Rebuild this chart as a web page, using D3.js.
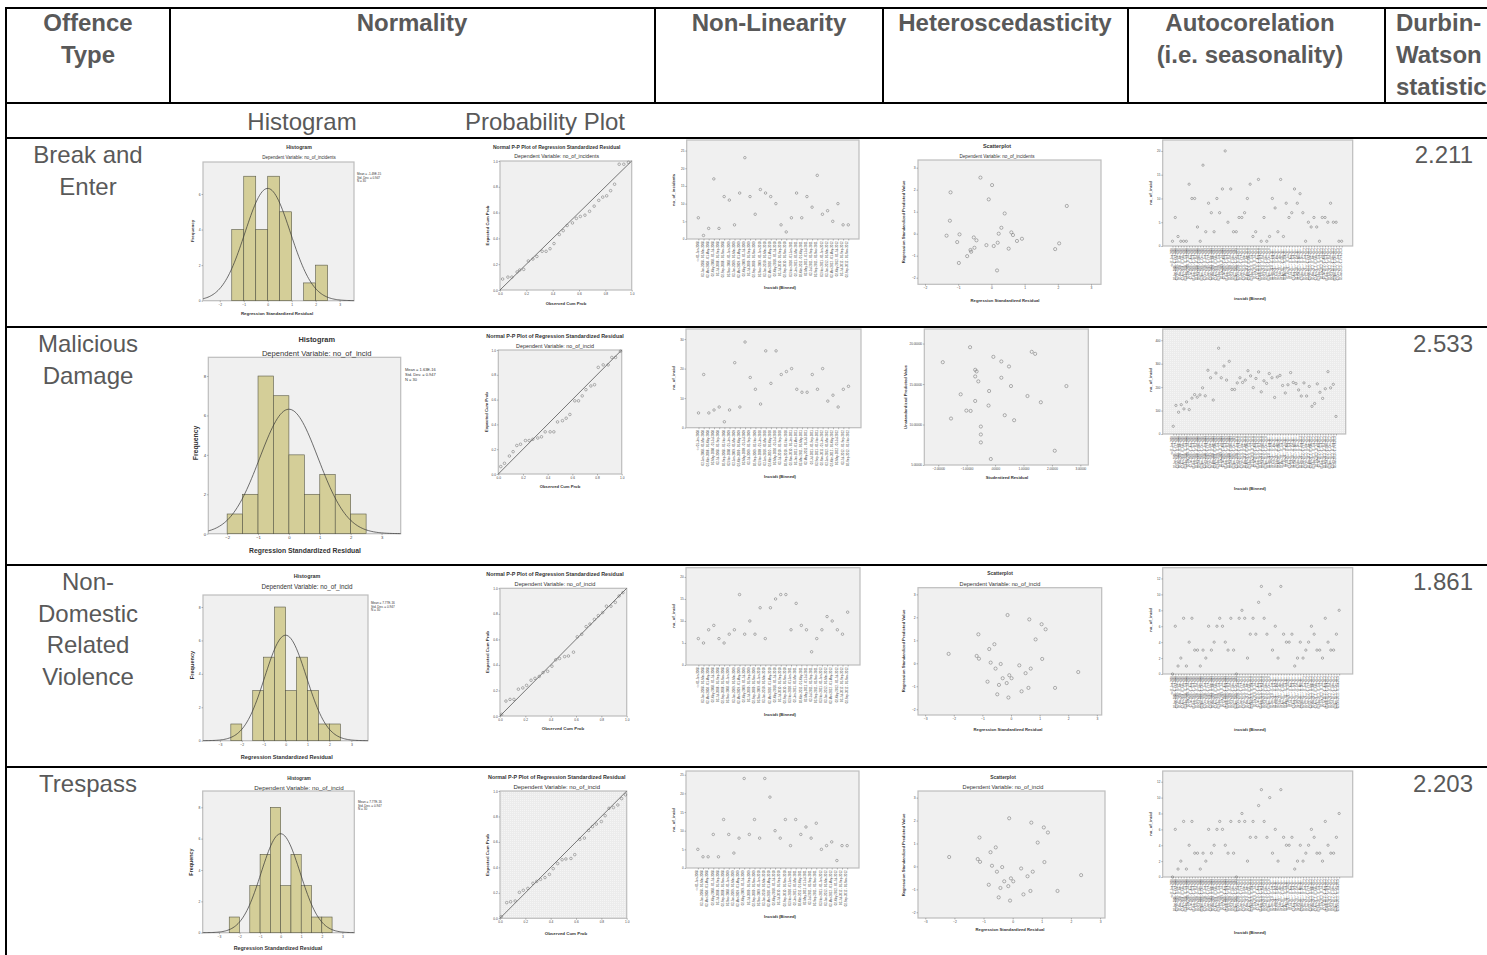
<!DOCTYPE html>
<html>
<head>
<meta charset="utf-8">
<script src="https://cdn.jsdelivr.net/npm/d3@7"></script>
<style>
  body { margin: 0; background: #fff; }
</style>
</head>
<body>
<div id="chart"></div>
<script>

// ---------- table content ----------
const headerCols = [
	{ lines: ["Offence", "Type"], x: 88, anchor: "middle" },
	{ lines: ["Normality"], x: 412, anchor: "middle" },
	{ lines: ["Non-Linearity"], x: 769, anchor: "middle" },
	{ lines: ["Heteroscedasticity"], x: 1005, anchor: "middle" },
	{ lines: ["Autocorelation", "(i.e. seasonality)"], x: 1250, anchor: "middle" },
	{ lines: ["Durbin-", "Watson", "statistic"], x: 1396, anchor: "start" }
];
const subHeaders = ["Histogram", "Probability Plot"];
const offenceTypes = [
	["Break and", "Enter"],
	["Malicious", "Damage"],
	["Non-", "Domestic", "Related", "Violence"],
	["Trespass"]
];
const dwStats = ["2.211", "2.533", "1.861", "2.203"];

// ---------- histogram data (bin width 0.5) ----------
const histStart = [-1.5, -2, -2.5, -2.5];
const histBE = [4, 7, 4, 7, 5, 0, 1, 2];
const histMD = [1, 2, 8, 7, 4, 2, 3, 2, 1];
const histNDRV = [1, 0, 3, 5, 8, 3, 5, 3, 1, 1];
const histTR = [1, 0, 3, 5, 8, 3, 5, 3, 1, 1];
const histMean = ["-1.49E-15", "1.63E-16", "7.77E-16", "7.77E-16"];
const histSD = "0.947";
const histN = 30;

// ---------- P-P plot data ----------
const ppObsBE = [0.02,0.06,0.09,0.13,0.15,0.18,0.215,0.25,0.28,0.32,0.35,0.38,0.41,0.45,0.48,0.51,0.55,0.58,0.61,0.645,0.68,0.715,0.75,0.78,0.81,0.84,0.87,0.905,0.94,0.975];
const ppExpBE = [0.085,0.10,0.10,0.14,0.155,0.16,0.225,0.24,0.26,0.30,0.30,0.32,0.36,0.43,0.46,0.50,0.52,0.555,0.57,0.58,0.61,0.65,0.695,0.72,0.73,0.77,0.82,0.975,0.975,0.99];
const ppObsMD = [0.02,0.05,0.09,0.12,0.15,0.18,0.22,0.25,0.28,0.32,0.35,0.38,0.42,0.45,0.48,0.52,0.55,0.58,0.62,0.65,0.68,0.71,0.75,0.78,0.81,0.85,0.89,0.92,0.95,0.99];
const ppExpMD = [0.06,0.086,0.145,0.18,0.23,0.24,0.27,0.27,0.28,0.29,0.30,0.34,0.34,0.34,0.42,0.43,0.45,0.48,0.59,0.59,0.63,0.68,0.71,0.72,0.86,0.88,0.88,0.94,0.94,0.99];
const ppObsNDRV = [0.013,0.047,0.079,0.11,0.145,0.18,0.21,0.245,0.276,0.31,0.34,0.376,0.41,0.44,0.47,0.51,0.54,0.58,0.61,0.645,0.68,0.71,0.745,0.776,0.81,0.84,0.876,0.91,0.94,0.97];
const ppExpNDRV = [0.013,0.117,0.13,0.13,0.21,0.22,0.24,0.28,0.295,0.31,0.34,0.35,0.39,0.44,0.45,0.465,0.47,0.50,0.62,0.64,0.70,0.72,0.757,0.786,0.81,0.86,0.86,0.89,0.94,0.966];
const ppObsTR = [0.01,0.053,0.084,0.12,0.153,0.184,0.22,0.26,0.29,0.32,0.355,0.39,0.42,0.455,0.49,0.52,0.56,0.59,0.63,0.666,0.70,0.73,0.76,0.80,0.83,0.86,0.895,0.93,0.96,0.99];
const ppExpTR = [0.013,0.123,0.13,0.136,0.204,0.22,0.235,0.275,0.29,0.306,0.32,0.345,0.39,0.43,0.46,0.466,0.47,0.50,0.62,0.63,0.69,0.72,0.74,0.76,0.806,0.864,0.87,0.89,0.94,0.97];

// ---------- incidents by binned date ----------
const twoMonthBins = [
	"<= 01-Jan-2008",
	"02-Jan-2008 - 01-Mar-2008", "02-Mar-2008 - 01-May-2008", "02-May-2008 - 01-Jul-2008", "02-Jul-2008 - 01-Sep-2008", "02-Sep-2008 - 01-Nov-2008", "02-Nov-2008 - 01-Jan-2009",
	"02-Jan-2009 - 01-Mar-2009", "02-Mar-2009 - 01-May-2009", "02-May-2009 - 01-Jul-2009", "02-Jul-2009 - 01-Sep-2009", "02-Sep-2009 - 01-Nov-2009", "02-Nov-2009 - 01-Jan-2010",
	"02-Jan-2010 - 01-Mar-2010", "02-Mar-2010 - 01-May-2010", "02-May-2010 - 01-Jul-2010", "02-Jul-2010 - 01-Sep-2010", "02-Sep-2010 - 01-Nov-2010", "02-Nov-2010 - 01-Jan-2011",
	"02-Jan-2011 - 01-Mar-2011", "02-Mar-2011 - 01-May-2011", "02-May-2011 - 01-Jul-2011", "02-Jul-2011 - 01-Sep-2011", "02-Sep-2011 - 01-Nov-2011", "02-Nov-2011 - 01-Jan-2012",
	"02-Jan-2012 - 01-Mar-2012", "02-Mar-2012 - 01-May-2012", "02-May-2012 - 01-Jul-2012", "02-Jul-2012 - 01-Sep-2012", "02-Sep-2012 - 01-Nov-2012"
];
const monthBins = [
	"<= 01-Jan-2008",
	"02-Jan-2008 - 01-Feb-2008", "02-Feb-2008 - 01-Mar-2008", "02-Mar-2008 - 01-Apr-2008", "02-Apr-2008 - 01-May-2008", "02-May-2008 - 01-Jun-2008", "02-Jun-2008 - 01-Jul-2008",
	"02-Jul-2008 - 01-Aug-2008", "02-Aug-2008 - 01-Sep-2008", "02-Sep-2008 - 01-Oct-2008", "02-Oct-2008 - 01-Nov-2008", "02-Nov-2008 - 01-Dec-2008", "02-Dec-2008 - 01-Jan-2009",
	"02-Jan-2009 - 01-Feb-2009", "02-Feb-2009 - 01-Mar-2009", "02-Mar-2009 - 01-Apr-2009", "02-Apr-2009 - 01-May-2009", "02-May-2009 - 01-Jun-2009", "02-Jun-2009 - 01-Jul-2009",
	"02-Jul-2009 - 01-Aug-2009", "02-Aug-2009 - 01-Sep-2009", "02-Sep-2009 - 01-Oct-2009", "02-Oct-2009 - 01-Nov-2009", "02-Nov-2009 - 01-Dec-2009", "02-Dec-2009 - 01-Jan-2010",
	"02-Jan-2010 - 01-Feb-2010", "02-Feb-2010 - 01-Mar-2010", "02-Mar-2010 - 01-Apr-2010", "02-Apr-2010 - 01-May-2010", "02-May-2010 - 01-Jun-2010", "02-Jun-2010 - 01-Jul-2010",
	"02-Jul-2010 - 01-Aug-2010", "02-Aug-2010 - 01-Sep-2010", "02-Sep-2010 - 01-Oct-2010", "02-Oct-2010 - 01-Nov-2010", "02-Nov-2010 - 01-Dec-2010", "02-Dec-2010 - 01-Jan-2011",
	"02-Jan-2011 - 01-Feb-2011", "02-Feb-2011 - 01-Mar-2011", "02-Mar-2011 - 01-Apr-2011", "02-Apr-2011 - 01-May-2011", "02-May-2011 - 01-Jun-2011", "02-Jun-2011 - 01-Jul-2011",
	"02-Jul-2011 - 01-Aug-2011", "02-Aug-2011 - 01-Sep-2011", "02-Sep-2011 - 01-Oct-2011", "02-Oct-2011 - 01-Nov-2011", "02-Nov-2011 - 01-Dec-2011", "02-Dec-2011 - 01-Jan-2012",
	"02-Jan-2012 - 01-Feb-2012", "02-Feb-2012 - 01-Mar-2012", "02-Mar-2012 - 01-Apr-2012", "02-Apr-2012 - 01-May-2012", "02-May-2012 - 01-Jun-2012", "02-Jun-2012 - 01-Jul-2012",
	"02-Jul-2012 - 01-Aug-2012", "02-Aug-2012 - 01-Sep-2012", "02-Sep-2012 - 01-Oct-2012", "02-Oct-2012 - 01-Nov-2012", "02-Nov-2012 - 01-Dec-2012", "02-Dec-2012 - 01-Jan-2013",
	"02-Jan-2013 - 01-Feb-2013"
];

// non-linearity (two-monthly bins)
const nonlinBE = [6,1,3,17,3,12,11,4,13,23,12,7,14,13,12,10,4,2,6,13,6,12,9,18,7,8,5,10,4,4];
const nonlinMD = [5,18,5,6,7,2,6,22,7,29,17,13,8,26,15,26,18,19,20,13,12,12,18,13,20,9,11,7,13,14];
const nonlinNDRV = [6,5,8,9,6,5,7,8,16,7,10,7,13,6,13,15,16,16,8,14,9,8,3,6,8,11,10,8,7,12];
const nonlinTR = [5,3,3,9,3,13,9,4,8,24,9,13,8,24,19,10,8,13,6,13,9,11,8,12,5,6,7,2,6,6];

// autocorrelation (monthly bins)
const autoBE = [1,6,2,1,1,1,13,10,10,4,1,17,3,9,7,3,10,7,12,20,5,12,3,3,6,6,7,10,13,2,3,14,1,6,1,2,10,8,3,14,2,9,6,7,12,9,11,7,1,5,4,6,4,1,6,6,5,9,5,5,1,1];
const autoMD = [33,122,93,125,107,137,104,153,168,157,167,197,163,272,240,145,260,366,240,290,230,310,190,190,218,240,220,230,270,248,198,237,265,180,227,216,258,240,156,243,250,207,175,210,262,220,215,188,162,218,162,203,118,130,214,178,152,193,266,197,212,75];
const autoNDRV = [0,6,1,2,7,1,4,7,3,3,1,3,2,6,3,4,6,7,6,4,3,7,3,0,7,8,7,2,5,7,5,9,11,7,5,10,3,6,2,11,5,4,4,5,1,2,4,2,3,4,6,5,3,3,2,7,4,3,3,5,8];
const autoTR = [0,6,1,2,7,1,4,7,3,3,1,3,2,6,3,4,6,7,6,4,3,7,3,0,7,8,7,2,5,7,5,9,11,7,5,10,3,6,2,11,5,4,4,5,1,2,4,2,3,4,6,5,3,3,2,7,4,3,3,5,8];

// ---------- heteroscedasticity scatter ----------
const hetXBE = [-1.35,-1.23,-1.25,-0.96,-1.03,-0.98,-0.73,-0.63,-0.61,-0.53,-0.45,-0.51,-0.33,-0.15,-0.08,0.02,0.07,0.17,0.19,0.22,0.30,0.40,0.52,0.60,0.65,0.77,0.92,1.92,2.04,2.27];
const hetYBE = [-0.09,1.88,0.59,-0.03,-0.38,-1.33,-1.02,-0.74,-0.82,-0.17,-0.30,-0.64,2.55,-0.52,1.56,2.21,-0.56,-1.67,-0.41,0.0,0.27,0.92,-0.68,0.06,-0.06,-0.33,-0.23,-0.70,-0.44,1.26];
const hetXMD = [-1.84,-1.55,-1.21,-1.01,-0.88,-0.86,-0.70,-0.70,-0.70,-0.65,-0.59,-0.50,-0.50,-0.50,-0.23,-0.21,-0.15,-0.06,0.22,0.22,0.34,0.49,0.56,0.67,1.14,1.29,1.41,1.61,2.10,2.51];
const hetYMD = [17.7,10.74,13.73,11.72,19.55,11.68,12.91,15.94,16.76,16.56,15.33,9.75,8.77,7.79,12.34,14.14,5.74,18.36,17.79,15.78,11.15,17.17,14.75,10.53,13.52,18.98,18.73,12.75,6.76,14.75];
const hetXNDRV = [-2.18,-1.20,-1.14,-1.12,-0.82,-0.76,-0.71,-0.58,-0.54,-0.48,-0.42,-0.36,-0.29,-0.15,-0.12,-0.06,-0.09,0.02,0.29,0.37,0.51,0.61,0.64,0.69,0.86,1.07,1.09,1.21,1.54,2.35];
const hetYNDRV = [0.41,0.32,1.26,0.20,-0.80,0.62,0.03,0.83,-0.23,-1.35,-0.94,-0.03,-0.65,-0.86,2.10,-0.52,-1.49,-0.65,-0.09,-1.22,-0.43,-1.07,1.91,-0.23,1.04,1.70,0.19,1.48,-1.07,-0.38];
const hetXTR = [-2.18,-1.20,-1.14,-1.12,-0.82,-0.76,-0.71,-0.58,-0.54,-0.48,-0.42,-0.36,-0.29,-0.15,-0.12,-0.06,-0.09,0.02,0.29,0.37,0.51,0.61,0.64,0.69,0.86,1.07,1.09,1.21,1.54,2.35];
const hetYTR = [0.41,0.32,1.26,0.20,-0.80,0.62,0.03,0.83,-0.23,-1.35,-0.94,-0.03,-0.65,-0.86,2.10,-0.52,-1.49,-0.65,-0.09,-1.22,-0.43,-1.07,1.91,-0.23,1.04,1.70,0.19,1.48,-1.07,-0.38];

// ---------- drawing ----------
const W = 1487, H = 955;
const FONT = '"Liberation Sans", Arial, Helvetica, sans-serif';
const TABLE_TEXT = "#595959";
const BIN_W = 0.5;

const svg = d3.select("#chart").append("svg")
	.attr("width", W)
	.attr("height", H)
	.attr("font-family", FONT);

// dotted fill used by a couple of the SPSS plots
const pat = svg.append("defs").append("pattern")
	.attr("id", "dots")
	.attr("width", 2)
	.attr("height", 2)
	.attr("patternUnits", "userSpaceOnUse");
pat.append("rect").attr("width", 2).attr("height", 2).attr("fill", "#ececec");
pat.append("rect").attr("width", 0.8).attr("height", 0.8).attr("fill", "#fbfbfb");

function txt(x, y, s, fs, o = {}) {
	const t = svg.append("text")
		.attr("x", x)
		.attr("y", y)
		.attr("font-size", fs)
		.attr("fill", o.fill || "#333")
		.attr("text-anchor", o.anchor || "middle")
		.attr("font-weight", o.bold ? "bold" : null)
		.text(s);
	if (o.rot) t.attr("transform", `rotate(-90,${x},${y})`);
	return t;
}

function hline(y, x0 = 5, x1 = W, w = 2) {
	svg.append("line").attr("x1", x0).attr("x2", x1).attr("y1", y).attr("y2", y)
		.attr("stroke", "#000").attr("stroke-width", w);
}
function vline(x, y0, y1, w = 2) {
	svg.append("line").attr("x1", x).attr("x2", x).attr("y1", y0).attr("y2", y1)
		.attr("stroke", "#000").attr("stroke-width", w);
}

// table grid
hline(8);
hline(103);
hline(138);
hline(327);
hline(565);
hline(767);
vline(6, 7, H);
[170, 655, 883, 1128, 1385].forEach(x => vline(x, 8, 103));

// header
headerCols.forEach(c => {
	c.lines.forEach((l, i) => txt(c.x, 31 + i * 32, l, 24, { bold: true, fill: TABLE_TEXT, anchor: c.anchor }));
});
txt(302, 130, subHeaders[0], 24, { fill: TABLE_TEXT });
txt(545, 130, subHeaders[1], 24, { fill: TABLE_TEXT });

// row labels and DW values
const rowTop = [163, 352, 590, 792];
offenceTypes.forEach((lines, r) => {
	lines.forEach((l, i) => txt(88, rowTop[r] + i * 31.5, l, 24, { fill: TABLE_TEXT }));
	txt(1473, rowTop[r], dwStats[r], 24, { fill: TABLE_TEXT, anchor: "end" });
});

// ---- chart helpers ----
function frame(f, dots) {
	svg.append("rect")
		.attr("x", f[0]).attr("y", f[1])
		.attr("width", f[2] - f[0]).attr("height", f[3] - f[1])
		.attr("fill", dots ? "url(#dots)" : "#f0f0f0")
		.attr("stroke", "#bdbdbd")
		.attr("stroke-width", 1.2);
}
function styleAxis(a, fs) {
	a.attr("font-size", fs).attr("font-family", FONT);
	a.select(".domain").remove();
	a.selectAll("line").attr("stroke", "#555").attr("stroke-width", 0.4);
	a.selectAll("text").attr("fill", "#444");
}
function yAxis(scale, x0, ticks, fmt, fs) {
	svg.append("g")
		.attr("transform", `translate(${x0},0)`)
		.call(d3.axisLeft(scale).tickValues(ticks).tickFormat(fmt).tickSize(1.5).tickPadding(0.8))
		.call(styleAxis, fs);
}
function xAxis(scale, y0, ticks, fmt, fs) {
	svg.append("g")
		.attr("transform", `translate(0,${y0})`)
		.call(d3.axisBottom(scale).tickValues(ticks).tickFormat(fmt).tickSize(1.5).tickPadding(1))
		.call(styleAxis, fs);
}
function dots(data, cx, cy, r) {
	svg.append("g").selectAll("circle").data(data).join("circle")
		.attr("cx", cx).attr("cy", cy).attr("r", r)
		.attr("fill", "none").attr("stroke", "#6a6a6a").attr("stroke-width", 0.5);
}
function titles(c) {
	if (c.title) txt(c.title[0], c.title[1], c.title[2], c.tf, { bold: true });
	if (c.sub) txt(c.title[0], c.sub[0], c.sub[1], c.sf);
}
const intFmt = d3.format("d");
const p1Fmt = d3.format(".1f");

function drawHist(c, counts, start, meanStr) {
	const [l, t, r, b] = c.frame;
	const x = d3.scaleLinear().domain(c.xd).range([l, r]);
	const y = d3.scaleLinear().domain(c.yd).range([b, t]);
	frame(c.frame);
	const bins = counts.map((n, i) => ({ x0: start + i * BIN_W, x1: start + (i + 1) * BIN_W, n }))
		.filter(d => d.n > 0);
	svg.append("g").selectAll("rect").data(bins).join("rect")
		.attr("x", d => x(d.x0))
		.attr("y", d => y(d.n))
		.attr("width", d => x(d.x1) - x(d.x0))
		.attr("height", d => y(0) - y(d.n))
		.attr("fill", "#d4ce98")
		.attr("stroke", "#595947")
		.attr("stroke-width", 0.6);
	// normal curve from the stated mean / std. dev.
	const mu = +meanStr, sd = +histSD;
	const pdf = v => histN * BIN_W * Math.exp(-0.5 * ((v - mu) / sd) ** 2) / (sd * Math.sqrt(2 * Math.PI));
	const xs = d3.range(c.xd[0], c.xd[1] + 1e-6, (c.xd[1] - c.xd[0]) / 120);
	svg.append("path").datum(xs)
		.attr("d", d3.line().x(v => x(v)).y(v => y(pdf(v))).curve(d3.curveBasis))
		.attr("fill", "none").attr("stroke", "#333").attr("stroke-width", 0.7);
	yAxis(y, l, c.yt, intFmt, c.tk);
	xAxis(x, b, c.xt, intFmt, c.tk);
	titles(c);
	[`Mean = ${meanStr}`, `Std. Dev. = ${histSD}`, `N = ${histN}`].forEach((s, i) =>
		txt(c.legend[0], c.legend[1] + i * c.lgf * 1.2, s, c.lgf, { anchor: "start" }));
	txt(c.xlab[0], c.xlab[1], "Regression Standardized Residual", c.lf, { bold: true });
	txt(c.ylab[0], c.ylab[1], "Frequency", c.lf, { bold: true, rot: true });
}

function drawPP(c, obs, exp) {
	const [l, t, r, b] = c.frame;
	const x = d3.scaleLinear().domain([0, 1]).range([l, r]);
	const y = d3.scaleLinear().domain([0, 1]).range([b, t]);
	frame(c.frame, c.dots);
	svg.append("line")
		.attr("x1", x(0)).attr("y1", y(0)).attr("x2", x(1)).attr("y2", y(1))
		.attr("stroke", "#555").attr("stroke-width", 0.8);
	dots(obs.map((o, i) => [o, exp[i]]), d => x(d[0]), d => y(d[1]), c.r);
	const ticks = [0, 0.2, 0.4, 0.6, 0.8, 1];
	yAxis(y, l, ticks, p1Fmt, c.tk);
	xAxis(x, b, ticks, p1Fmt, c.tk);
	titles(c);
	txt(c.xlab[0], c.xlab[1], "Observed Cum Prob", c.lf, { bold: true });
	txt(c.ylab[0], c.ylab[1], "Expected Cum Prob", c.lf, { bold: true, rot: true });
}

function drawSeq(c, vals, labels) {
	const [l, t, r, b] = c.frame;
	const dom = labels.slice(0, vals.length);
	const x = d3.scalePoint().domain(dom).range([l, r]).padding(c.pad).align(c.align);
	const y = d3.scaleLinear().domain(c.yd).range([b, t]);
	frame(c.frame, c.dots);
	dots(vals.map((v, i) => [dom[i], v]), d => x(d[0]), d => y(d[1]), c.r);
	yAxis(y, l, c.yt, intFmt, c.tk);
	svg.append("g")
		.attr("transform", `translate(0,${b})`)
		.call(d3.axisBottom(x).tickSize(1.5).tickPadding(0.8))
		.call(styleAxis, c.xtk)
		.selectAll("text")
		.attr("transform", "rotate(-90)")
		.attr("text-anchor", "end")
		.attr("dx", "-0.3em")
		.attr("dy", "-0.1em")
		.attr("y", 0)
		.attr("x", -1.5);
	txt(c.xlab[0], c.xlab[1], c.xlab[2], c.lf, { bold: true });
	txt(c.ylab[0], c.ylab[1], c.ylab[2], c.lf, { bold: true, rot: true });
}

function drawScatter(c, xs, ys) {
	const [l, t, r, b] = c.frame;
	const x = d3.scaleLinear().domain(c.xd).range([l, r]);
	const y = d3.scaleLinear().domain(c.yd).range([b, t]);
	frame(c.frame);
	dots(xs.map((v, i) => [v, ys[i]]), d => x(d[0]), d => y(d[1]), c.r);
	yAxis(y, l, c.yt, c.fmt, c.tk);
	xAxis(x, b, c.xt, c.fmt, c.tk);
	titles(c);
	txt(c.xlab[0], c.xlab[1], c.xlab[2], c.lf, { bold: true });
	txt(c.ylab[0], c.ylab[1], c.ylab[2], c.lf, { bold: true, rot: true });
}

const histTicks3 = [-3, -2, -1, 0, 1, 2, 3];
const histTicks2 = [-2, -1, 0, 1, 2, 3];
const fiveDp = v => v === 0 ? ".00000" : d3.format(".5f")(v);

// ---- row 1 : Break and Enter ----
drawHist({ frame: [203, 162, 354, 300.7], xd: [-2.7, 3.6], yd: [0, 7.8], xt: histTicks2, yt: [0, 2, 4, 6],
	title: [299, 149, "Histogram"], sub: [159, "Dependent Variable: no_of_incidents"], tf: 5.2, sf: 4.5,
	legend: [357, 175], lgf: 3, xlab: [277, 315], ylab: [193.5, 231], lf: 4.4, tk: 3.3 },
	histBE, histStart[0], histMean[0]);
drawPP({ frame: [500, 161, 631.7, 290], title: [556.7, 148.5, "Normal P-P Plot of Regression Standardized Residual"],
	sub: [158, "Dependent Variable: no_of_incidents"], tf: 5, sf: 5.2, xlab: [566, 305], ylab: [488.5, 225.5],
	lf: 4.2, tk: 3.2, r: 1.3 }, ppObsBE, ppExpBE);
drawSeq({ frame: [686.7, 140, 859, 239], yd: [0, 28], yt: [0, 5, 10, 15, 20, 25], pad: 2.16, align: 0.52,
	ylab: [674.5, 190, "no_of_incidents"], xlab: [780, 289, "Incstdt (Binned)"], lf: 4.2, tk: 3, xtk: 2.9, r: 1.25 },
	nonlinBE, twoMonthBins);
drawScatter({ frame: [918, 160, 1101, 284.3], xd: [-2.21, 3.3], yd: [-2.3, 3.35], xt: histTicks2, yt: [-2, -1, 0, 1, 2, 3],
	fmt: intFmt, title: [997, 148, "Scatterplot"], sub: [158, "Dependent Variable: no_of_incidents"], tf: 5.4, sf: 4.6,
	xlab: [1005, 302, "Regression Standardized Residual"], ylab: [905, 222, "Regression Standardized Predicted Value"],
	lf: 4.2, tk: 3.3, r: 1.6 }, hetXBE, hetYBE);
drawSeq({ frame: [1162.7, 140, 1352.7, 246], yd: [0, 22.3], yt: [0, 5, 10, 15, 20], pad: 3.75, align: 0.47,
	ylab: [1151.5, 193, "no_of_incid"], xlab: [1250, 300, "incstdt (Binned)"], lf: 4.2, tk: 3, xtk: 2.6, r: 1.15 },
	autoBE, monthBins);

// ---- row 2 : Malicious Damage ----
drawHist({ frame: [208.3, 357.3, 400.7, 533.7], xd: [-2.61, 3.62], yd: [0, 8.95], xt: histTicks2, yt: [0, 2, 4, 6, 8],
	title: [316.7, 342, "Histogram"], sub: [355.5, "Dependent Variable: no_of_incid"], tf: 7.4, sf: 7.6,
	legend: [405, 371], lgf: 4, xlab: [305, 553, ], ylab: [197.5, 443], lf: 6.8, tk: 4.2 },
	histMD, histStart[1], histMean[1]);
drawPP({ frame: [498.3, 350, 621.7, 474], title: [555, 337.7, "Normal P-P Plot of Regression Standardized Residual"],
	sub: [347.5, "Dependent Variable: no_of_incid"], tf: 5.4, sf: 5.4, xlab: [560, 487.5], ylab: [487.5, 412],
	lf: 4.2, tk: 3.2, r: 1.3 }, ppObsMD, ppExpMD);
drawSeq({ frame: [686, 329, 861, 427.7], yd: [0, 33.4], yt: [0, 10, 20, 30], pad: 2.42, align: 0.5,
	ylab: [675, 378, "no_of_incid"], xlab: [780, 478, "Incstdt (Binned)"], lf: 4.2, tk: 3, xtk: 2.9, r: 1.25 },
	nonlinMD, twoMonthBins);
drawScatter({ frame: [924.3, 329, 1088.3, 465], xd: [-2.49, 3.28], yd: [5.0, 21.8], xt: histTicks2, yt: [5, 10, 15, 20],
	fmt: fiveDp, xlab: [1007, 479, "Studentized Residual"], ylab: [906.5, 397, "Unstandardized Predicted Value"],
	lf: 4.2, tk: 3, r: 1.6 }, hetXMD, hetYMD);
drawSeq({ frame: [1162.7, 329, 1345.7, 434], yd: [0, 448], yt: [0, 100, 200, 300, 400], pad: 3.8, align: 0.52, dots: true,
	ylab: [1151.5, 380, "no_of_incid"], xlab: [1250, 490, "Incstdt (Binned)"], lf: 4.2, tk: 3, xtk: 2.6, r: 1.15 },
	autoMD, monthBins);

// ---- row 3 : Non-Domestic Related Violence ----
drawHist({ frame: [203, 595, 368, 740.7], xd: [-3.77, 3.76], yd: [0, 8.72], xt: histTicks3, yt: [0, 2, 4, 6, 8],
	title: [307, 577.5, "Histogram"], sub: [589, "Dependent Variable: no_of_incid"], tf: 5.4, sf: 6.3,
	legend: [371, 604], lgf: 3.1, xlab: [286.7, 758.5], ylab: [193.5, 665], lf: 5.6, tk: 3.4 },
	histNDRV, histStart[2], histMean[2]);
drawPP({ frame: [500, 588.3, 626.7, 716], title: [555, 576, "Normal P-P Plot of Regression Standardized Residual"],
	sub: [586, "Dependent Variable: no_of_incid"], tf: 5.4, sf: 5.6, xlab: [563, 730], ylab: [488.5, 652],
	lf: 4.4, tk: 3.2, r: 1.3 }, ppObsNDRV, ppExpNDRV);
drawSeq({ frame: [686, 567.7, 860, 665], yd: [0, 22.1], yt: [0, 5, 10, 15, 20], pad: 2.4, align: 0.5,
	ylab: [675, 616, "no_of_incid"], xlab: [780, 716, "Incstdt (Binned)"], lf: 4.2, tk: 3, xtk: 2.9, r: 1.25 },
	nonlinNDRV, twoMonthBins);
drawScatter({ frame: [918, 587.7, 1101.7, 715], xd: [-3.25, 3.17], yd: [-2.25, 3.29], xt: histTicks3, yt: [-2, -1, 0, 1, 2, 3],
	fmt: intFmt, title: [1000, 575, "Scatterplot"], sub: [586, "Dependent Variable: no_of_incid"], tf: 4.9, sf: 5.6,
	xlab: [1008, 731, "Regression Standardized Residual"], ylab: [905, 651, "Regression Standardized Predicted Value"],
	lf: 4.2, tk: 3.3, r: 1.6 }, hetXNDRV, hetYNDRV);
drawSeq({ frame: [1162.7, 567.7, 1352.7, 674], yd: [0, 13.35], yt: [0, 2, 4, 6, 8, 10, 12], pad: 4.2, align: 0.42,
	ylab: [1151.5, 620, "no_of_incid"], xlab: [1250, 731, "incstdt (Binned)"], lf: 4.2, tk: 3, xtk: 2.6, r: 1.15 },
	autoNDRV, monthBins);

// ---- row 4 : Trespass ----
drawHist({ frame: [202.7, 791, 354.3, 932.7], xd: [-3.79, 3.58], yd: [0, 9.04], xt: histTicks3, yt: [0, 2, 4, 6, 8],
	title: [299, 779.5, "Histogram"], sub: [790, "Dependent Variable: no_of_incid"], tf: 4.8, sf: 6.2,
	legend: [358, 803], lgf: 3.1, xlab: [278, 949.5], ylab: [193, 862], lf: 5.4, tk: 3.3 },
	histTR, histStart[3], histMean[3]);
drawPP({ frame: [500, 791, 626.7, 918.3], dots: true, title: [556.7, 778.5, "Normal P-P Plot of Regression Standardized Residual"],
	sub: [789, "Dependent Variable: no_of_incid"], tf: 5.4, sf: 6, xlab: [566, 935], ylab: [488.5, 855],
	lf: 4.4, tk: 3.2, r: 1.3 }, ppObsTR, ppExpTR);
drawSeq({ frame: [686, 771, 859, 868], yd: [0, 26], yt: [0, 5, 10, 15, 20, 25], pad: 2.3, align: 0.5,
	ylab: [675, 820, "no_of_incid"], xlab: [780, 918, "Incstdt (Binned)"], lf: 4.2, tk: 3, xtk: 2.9, r: 1.25 },
	nonlinTR, twoMonthBins);
drawScatter({ frame: [918, 791, 1105, 918], xd: [-3.25, 3.17], yd: [-2.25, 3.29], xt: histTicks3, yt: [-2, -1, 0, 1, 2, 3],
	fmt: intFmt, title: [1003, 779, "Scatterplot"], sub: [789, "Dependent Variable: no_of_incid"], tf: 4.9, sf: 5.6,
	xlab: [1010, 931, "Regression Standardized Residual"], ylab: [905, 855, "Regression Standardized Predicted Value"],
	lf: 4.2, tk: 3.3, r: 1.6 }, hetXTR, hetYTR);
drawSeq({ frame: [1162.7, 771, 1352.7, 877], yd: [0, 13.35], yt: [0, 2, 4, 6, 8, 10, 12], pad: 4.2, align: 0.42,
	ylab: [1151.5, 824, "no_of_incid"], xlab: [1250, 934, "Incstdt (Binned)"], lf: 4.2, tk: 3, xtk: 2.6, r: 1.15 },
	autoTR, monthBins);

</script>
</body>
</html>
